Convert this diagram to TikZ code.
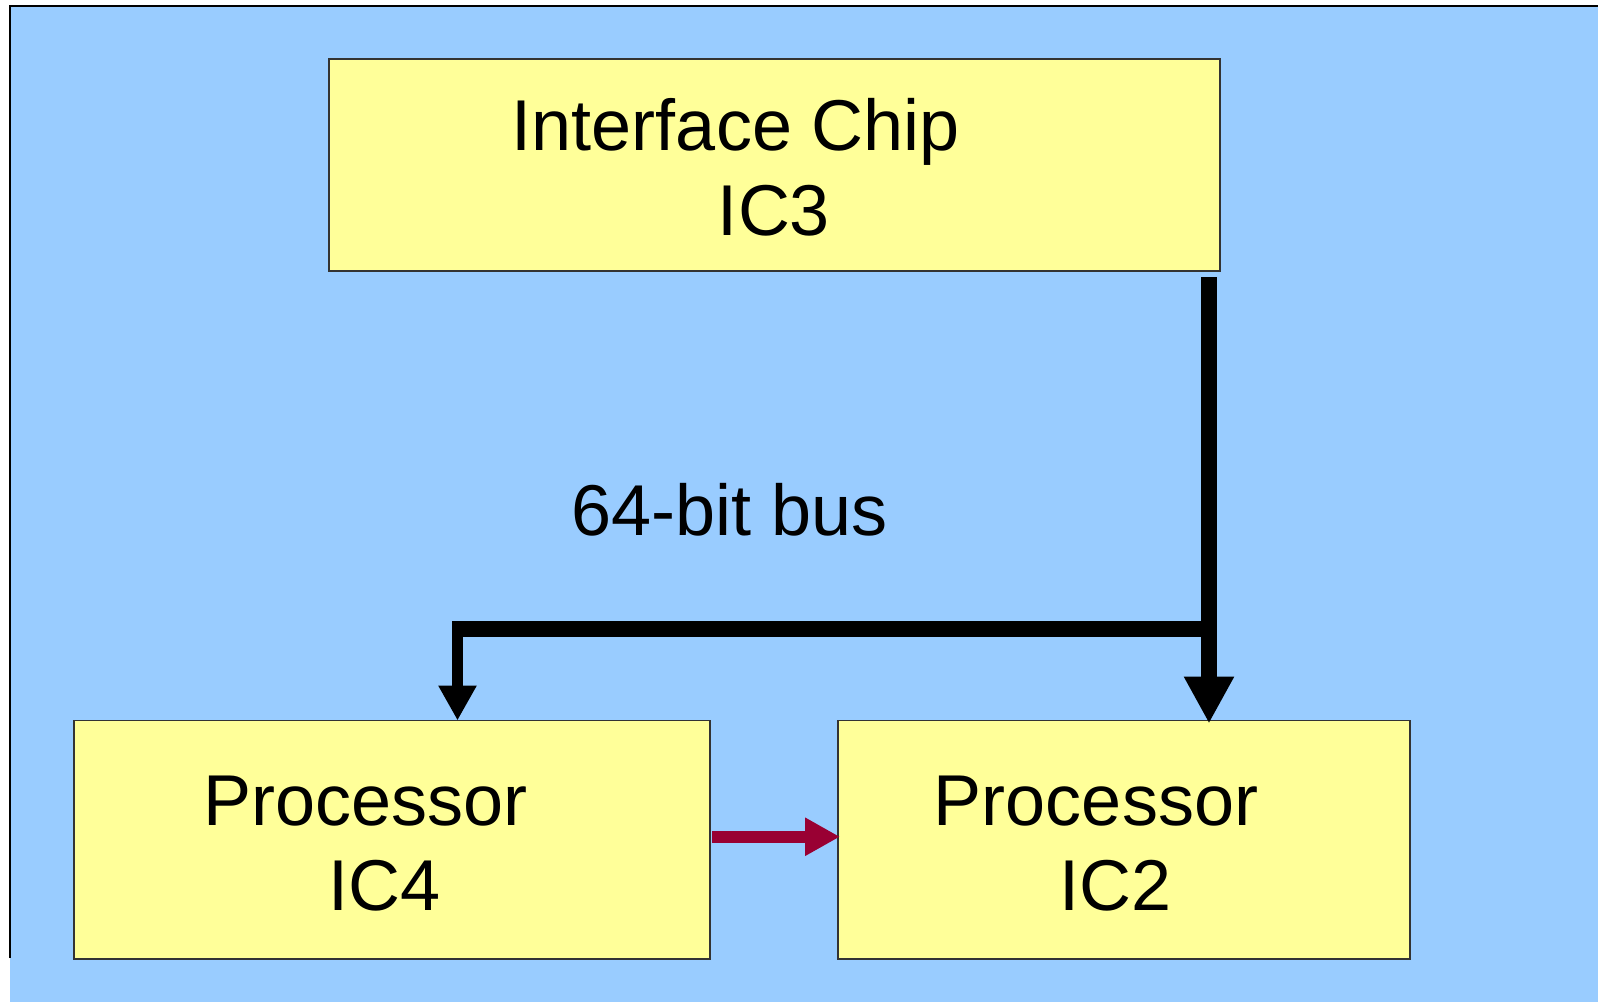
\documentclass[tikz,border=0pt]{standalone}
\usepackage{fontspec}
\setmainfont{Liberation Sans}
\usetikzlibrary{arrows.meta}
\definecolor{bgblue}{HTML}{99CCFF}
\definecolor{boxyellow}{HTML}{FFFF99}
\definecolor{linkred}{HTML}{990033}
\tikzset{
  chipbox/.style={draw=black!80, line width=1.2pt, fill=boxyellow, rectangle, inner sep=0pt, outer sep=0pt},
  lbl/.style={anchor=base, inner sep=0pt, font=\fontsize{72}{85}\selectfont},
  bus/.style={draw=black, line cap=butt},
}
\begin{document}
\begin{tikzpicture}[x=1pt,y=-1pt]
\useasboundingbox (0,0) rectangle (1598,1002);
\fill[white] (0,0) rectangle (1598,1002);
\fill[bgblue] (10,6) rectangle (1598,1002);
\draw[black, line width=2pt] (10,958) -- (10,6) -- (1598,6);

\node[chipbox, minimum width=891pt, minimum height=212pt] (ic3) at (774.5,165) {};
\node[chipbox, minimum width=636pt, minimum height=238.5pt] (ic4) at (392,839.75) {};
\node[chipbox, minimum width=572pt, minimum height=238.5pt] (ic2) at (1124,839.75) {};

\node[lbl] (t1) at (736,150) {Interface Chip};
\node[lbl] (t2) at (774,235) {IC3};
\node[lbl] (t3) at (730,535) {64-bit bus};
\node[lbl] (t4) at (365.5,825) {Processor};
\node[lbl] (t5) at (384.5,910) {IC4};
\node[lbl] (t6) at (1096,825) {Processor};
\node[lbl] (t7) at (1115.5,910) {IC2};

\coordinate (busTop) at (1209,277);
\coordinate (busJoin) at (1209,629);
\coordinate (busLeft) at (452,629);
\coordinate (dropTop) at (457.5,621);

\draw[bus, line width=16pt, -{Triangle[width=47pt,length=47pt]}, shorten >=-3pt] (busTop) -- (busTop |- ic2.north);
\draw[bus, line width=16pt] (busJoin) -- (busLeft);
\draw[bus, line width=11pt, -{Triangle[width=36pt,length=35pt]}] (dropTop) -- (dropTop |- ic4.north);

\draw[linkred, line width=12pt, -{Triangle[width=36pt,length=35pt]}, shorten <=2pt, shorten >=-2pt] ([yshift=3pt]ic4.east) -- ([yshift=3pt]ic2.west);
\end{tikzpicture}
\end{document}
